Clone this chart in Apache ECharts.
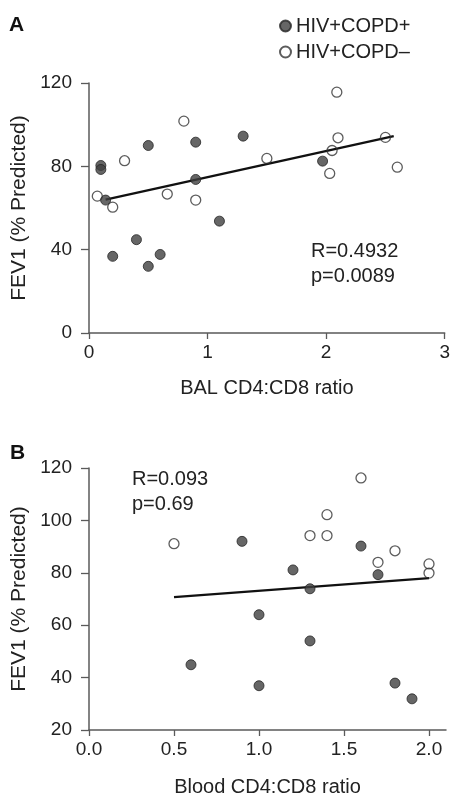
<!DOCTYPE html>
<html>
<head>
<meta charset="utf-8">
<script src="https://cdn.jsdelivr.net/npm/echarts@6/dist/echarts.min.js"></script>
<style>
html,body{margin:0;padding:0;background:#fff;}
#chart{width:453px;height:799px;}
</style>
</head>
<body>
<div id="chart"></div>
<script>
// Panel A: BAL CD4:CD8 ratio vs FEV1
const aPosX = [0.10, 0.10, 0.14, 0.5, 0.9, 0.9, 1.3, 1.1, 0.4, 0.2, 0.6, 0.5, 1.97];
const aPosY = [80.4, 78.5, 63.8, 90, 91.6, 73.7, 94.5, 53.7, 44.8, 36.8, 37.7, 32, 82.5];
const aNegX = [0.07, 0.2, 0.3, 0.8, 0.66, 0.9, 1.5, 2.09, 2.1, 2.05, 2.03, 2.5, 2.6];
const aNegY = [65.7, 60.4, 82.7, 101.7, 66.7, 63.8, 83.8, 115.6, 93.7, 87.6, 76.6, 93.9, 79.6];
const aFitX = [0.14, 2.57];
const aFitY = [64.0, 94.5];
const aTicksX = [0, 1, 2, 3];
const aTicksY = [0, 40, 80, 120];

// Panel B: Blood CD4:CD8 ratio vs FEV1
const bPosX = [0.9, 1.2, 1.3, 1.0, 1.3, 1.6, 1.7, 0.6, 1.0, 1.8, 1.9];
const bPosY = [92, 81.1, 73.9, 64, 54, 90.2, 79.3, 44.9, 36.9, 37.9, 31.9];
const bNegX = [0.5, 1.3, 1.6, 1.4, 1.4, 1.8, 1.7, 2.0, 2.0];
const bNegY = [91.1, 94.2, 116.2, 102.2, 94.2, 88.4, 84, 83.4, 79.9];
const bFitX = [0.5, 2.0];
const bFitY = [70.7, 78.0];
const bTicksX = [0, 0.5, 1.0, 1.5, 2.0];
const bTicksY = [20, 40, 60, 80, 100, 120];

const groupNames = ['HIV+COPD+', 'HIV+COPD–'];
const statsA = ['R=0.4932', 'p=0.0089'];
const statsB = ['R=0.093', 'p=0.69'];

const zip = (xs, ys) => xs.map((x, i) => [x, ys[i]]);

const FONT = 'Liberation Sans, Arial, Helvetica, sans-serif';
const TXT = '#222';
const AX = '#5a5a5a';

const filledStyle = { color: '#404040', borderColor: '#262626', borderWidth: 1 };
const openStyle = { color: 'rgba(255,255,255,0)', borderColor: '#333', borderWidth: 1.3 };

function xAxisCfg(grid, min, max, interval, ticks, name, gap, dec) {
  return {
    type: 'value', gridIndex: grid, min: min, max: max, interval: interval,
    name: name, nameLocation: 'middle', nameGap: gap,
    nameTextStyle: { fontFamily: FONT, fontSize: 20, color: TXT },
    axisLine: { show: true, onZero: false, lineStyle: { color: AX, width: 1.5 } },
    axisTick: { show: true, length: 6, customValues: ticks, lineStyle: { color: AX, width: 1.3 } },
    axisLabel: { margin: 10, fontFamily: FONT, fontSize: 19, color: TXT, customValues: ticks,
      formatter: v => dec ? v.toFixed(1) : String(v) },
    splitLine: { show: false }
  };
}
function yAxisCfg(grid, min, max, interval, ticks) {
  return {
    type: 'value', gridIndex: grid, min: min, max: max, interval: interval,
    name: 'FEV1 (% Predicted)', nameLocation: 'middle', nameGap: 58, nameRotate: 90,
    nameTextStyle: { fontFamily: FONT, fontSize: 21, color: TXT },
    axisLine: { show: true, onZero: false, lineStyle: { color: AX, width: 1.5 } },
    axisTick: { show: true, length: 8, customValues: ticks, lineStyle: { color: AX, width: 1.3 } },
    axisLabel: { margin: 17, fontFamily: FONT, fontSize: 19, color: TXT, customValues: ticks },
    splitLine: { show: false }
  };
}

const chart = echarts.init(document.getElementById('chart'), null, { renderer: 'canvas' });
chart.setOption({
  animation: false,
  backgroundColor: '#fff',
  grid: [
    { left: 89, right: 7, top: 83, height: 250 },
    { left: 89, right: 7, top: 468, height: 262 }
  ],
  legend: {
    data: groupNames,
    orient: 'vertical', left: 274, top: 11,
    icon: 'circle', itemWidth: 11, itemHeight: 11, itemGap: 6,
    textStyle: { fontFamily: FONT, fontSize: 20, color: TXT }
  },
  xAxis: [
    xAxisCfg(0, 0, 3, 1, aTicksX, 'BAL CD4:CD8 ratio', 45, false),
    xAxisCfg(1, 0, 2.1, 0.5, bTicksX, 'Blood CD4:CD8 ratio', 47, true)
  ],
  yAxis: [
    yAxisCfg(0, 0, 120, 40, aTicksY),
    yAxisCfg(1, 20, 120, 20, bTicksY)
  ],
  graphic: [
    { type: 'text', left: 9, top: 15, style: { text: 'A', font: 'bold 21px ' + FONT, fill: '#111' } },
    { type: 'text', left: 10, top: 443, style: { text: 'B', font: 'bold 21px ' + FONT, fill: '#111' } },
    { type: 'text', left: 311, top: 241, style: { text: statsA[0], font: '20px ' + FONT, fill: TXT } },
    { type: 'text', left: 311, top: 266, style: { text: statsA[1], font: '20px ' + FONT, fill: TXT } },
    { type: 'text', left: 132, top: 469, style: { text: statsB[0], font: '20px ' + FONT, fill: TXT } },
    { type: 'text', left: 132, top: 494, style: { text: statsB[1], font: '20px ' + FONT, fill: TXT } }
  ],
  series: [
    { type: 'line', xAxisIndex: 0, yAxisIndex: 0, data: zip(aFitX, aFitY), symbol: 'none',
      lineStyle: { color: '#111', width: 2.2 }, z: 2, silent: true },
    { type: 'line', xAxisIndex: 1, yAxisIndex: 1, data: zip(bFitX, bFitY), symbol: 'none',
      lineStyle: { color: '#111', width: 2.2 }, z: 2, silent: true },
    { name: groupNames[0], type: 'scatter', xAxisIndex: 0, yAxisIndex: 0, data: zip(aPosX, aPosY),
      symbolSize: 10, itemStyle: filledStyle, z: 3 },
    { name: groupNames[1], type: 'scatter', xAxisIndex: 0, yAxisIndex: 0, data: zip(aNegX, aNegY),
      symbolSize: 10, itemStyle: openStyle, z: 3 },
    { name: groupNames[0], type: 'scatter', xAxisIndex: 1, yAxisIndex: 1, data: zip(bPosX, bPosY),
      symbolSize: 10, itemStyle: filledStyle, z: 3 },
    { name: groupNames[1], type: 'scatter', xAxisIndex: 1, yAxisIndex: 1, data: zip(bNegX, bNegY),
      symbolSize: 10, itemStyle: openStyle, z: 3 }
  ]
});
</script>
</body>
</html>
